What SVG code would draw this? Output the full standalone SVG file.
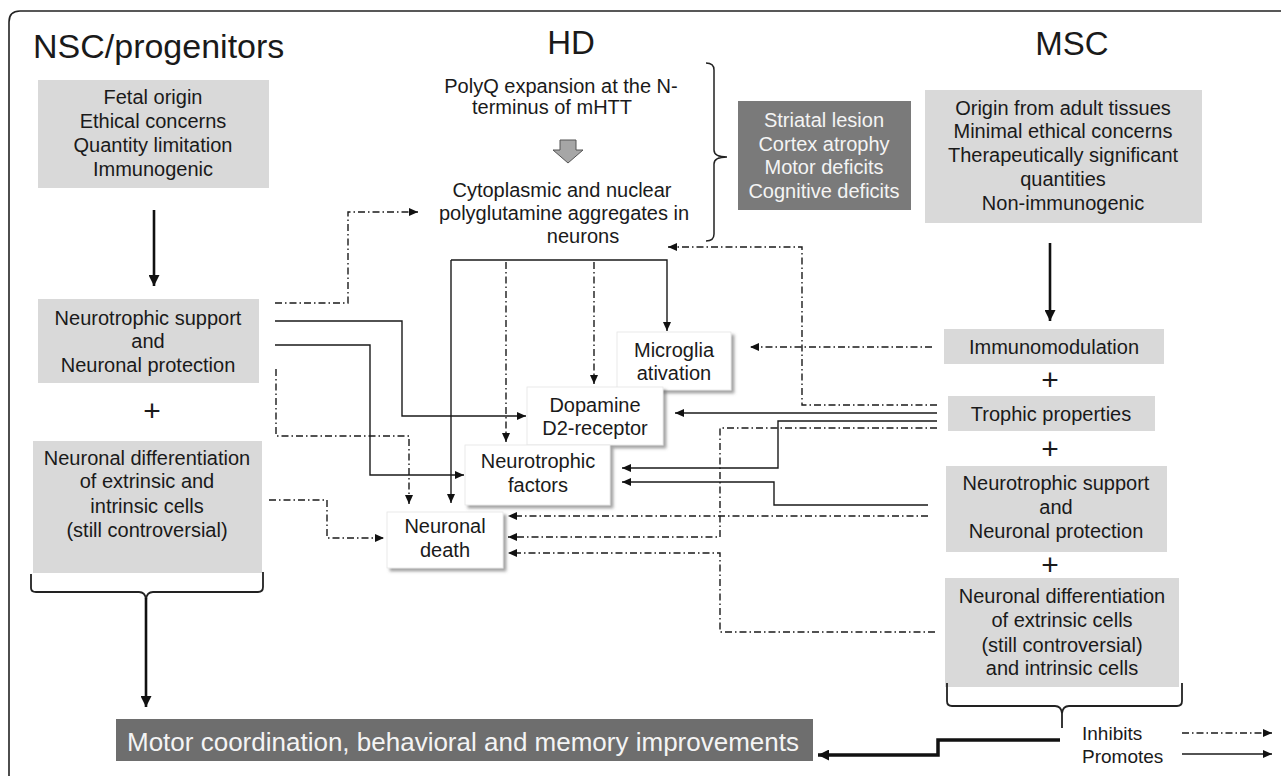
<svg xmlns="http://www.w3.org/2000/svg" width="1281" height="776" viewBox="0 0 1281 776">
<style>
text{font-family:"Liberation Sans",Arial,sans-serif;fill:#1a1a1a}
.t20{font-size:20px;text-anchor:middle}
.title{font-size:33px}
.wt{fill:#f4f4f4}
.gbox{fill:#d9d9d9}
.dbox{fill:#7a7a7a}
.wbox{fill:#ffffff;stroke:#e4e4e4;stroke-width:0.8}
.sol{fill:none;stroke:#1a1a1a;stroke-width:1.4}
.dd{fill:none;stroke:#1a1a1a;stroke-width:1.4;stroke-dasharray:7 3 1.5 3}
.thick{fill:none;stroke:#111;stroke-width:2.6}
.plus{font-size:30px;text-anchor:middle}
</style>
<defs>
<marker id="arr" markerUnits="userSpaceOnUse" markerWidth="9" markerHeight="8" refX="9" refY="4" orient="auto"><path d="M0,0 L9,4 L0,8 z" fill="#111"/></marker>
<marker id="arrB" markerUnits="userSpaceOnUse" markerWidth="11" markerHeight="11" refX="11" refY="5.5" orient="auto"><path d="M0,0 L11,5.5 L0,11 z" fill="#111"/></marker>
<filter id="sh" x="-10%" y="-10%" width="125%" height="130%"><feDropShadow dx="3" dy="3" stdDeviation="1.5" flood-color="#666" flood-opacity="0.6"/></filter>
</defs>

<path id="frame" d="M9,776 V22 Q9,11 20,11 H1281" fill="none" stroke="#222" stroke-width="1.6"/>

<g id="titles">
<text class="title" x="33" y="58" font-size="34" style="font-size:34px">NSC/progenitors</text>
<text class="title" x="571" y="54" text-anchor="middle">HD</text>
<text class="title" x="1072" y="55" text-anchor="middle">MSC</text>
</g>

<g id="nsc-props">
<rect class="gbox" x="38" y="80" width="231" height="108"/>
<text class="t20" x="153" y="104">Fetal origin</text>
<text class="t20" x="153" y="128">Ethical concerns</text>
<text class="t20" x="153" y="152">Quantity limitation</text>
<text class="t20" x="153" y="176">Immunogenic</text>
</g>
<g id="nsc-support">
<rect class="gbox" x="38" y="299" width="221" height="84"/>
<text class="t20" x="148" y="325">Neurotrophic support</text>
<text class="t20" x="148" y="348">and</text>
<text class="t20" x="148" y="372">Neuronal protection</text>
</g>
<text class="plus" x="152" y="421">+</text>
<g id="nsc-diff">
<rect class="gbox" x="33" y="441" width="229" height="132"/>
<text class="t20" x="147" y="465">Neuronal differentiation</text>
<text class="t20" x="147" y="488">of extrinsic and</text>
<text class="t20" x="147" y="513">intrinsic cells</text>
<text class="t20" x="147" y="537">(still controversial)</text>
</g>

<g id="hd-text">
<text class="t20" x="561" y="93">PolyQ expansion at the N-</text>
<text class="t20" x="552" y="114">terminus of mHTT</text>
<polygon points="560,140 576,140 576,150 583,150 568,163 553,150 560,150" fill="#a6a6a6" stroke="#555" stroke-width="1"/>
<text class="t20" x="562" y="197">Cytoplasmic and nuclear</text>
<text class="t20" x="564" y="220">polyglutamine aggregates in</text>
<text class="t20" x="583" y="243">neurons</text>
<path d="M706,63 Q714,63 714,70 V150 Q714,157 727,157 Q714,157 714,164 V234 Q714,241 706,241" fill="none" stroke="#222" stroke-width="1.5"/>
</g>

<g id="hd-symptoms">
<rect class="dbox" x="738" y="101" width="173" height="109"/>
<text class="t20 wt" x="824" y="127">Striatal lesion</text>
<text class="t20 wt" x="824" y="151">Cortex atrophy</text>
<text class="t20 wt" x="824" y="174">Motor deficits</text>
<text class="t20 wt" x="824" y="198">Cognitive deficits</text>
</g>

<g id="msc-props">
<rect class="gbox" x="925" y="90" width="277" height="133"/>
<text class="t20" x="1063" y="115">Origin from adult tissues</text>
<text class="t20" x="1063" y="138">Minimal ethical concerns</text>
<text class="t20" x="1063" y="162">Therapeutically significant</text>
<text class="t20" x="1063" y="186">quantities</text>
<text class="t20" x="1063" y="210">Non-immunogenic</text>
</g>
<g id="msc-immuno">
<rect class="gbox" x="944" y="329" width="220" height="35"/>
<text class="t20" x="1054" y="354">Immunomodulation</text>
</g>
<text class="plus" x="1050" y="390">+</text>
<g id="msc-trophic">
<rect class="gbox" x="948" y="396" width="207" height="35"/>
<text class="t20" x="1051" y="421">Trophic properties</text>
</g>
<text class="plus" x="1050" y="459">+</text>
<g id="msc-support">
<rect class="gbox" x="946" y="466" width="221" height="86"/>
<text class="t20" x="1056" y="490">Neurotrophic support</text>
<text class="t20" x="1056" y="514">and</text>
<text class="t20" x="1056" y="538">Neuronal protection</text>
</g>
<text class="plus" x="1050" y="575">+</text>
<g id="msc-diff">
<rect class="gbox" x="945" y="578" width="234" height="109"/>
<text class="t20" x="1062" y="603">Neuronal differentiation</text>
<text class="t20" x="1062" y="627">of extrinsic cells</text>
<text class="t20" x="1062" y="652">(still controversial)</text>
<text class="t20" x="1062" y="675">and intrinsic cells</text>
</g>

<g id="microglia">
<rect class="wbox" x="617" y="332" width="114" height="58" filter="url(#sh)"/>
<text class="t20" x="674" y="357">Microglia</text>
<text class="t20" x="674" y="380">ativation</text>
</g>
<g id="dopamine">
<rect class="wbox" x="527" y="387" width="136" height="58" filter="url(#sh)"/>
<text class="t20" x="595" y="412">Dopamine</text>
<text class="t20" x="595" y="435">D2-receptor</text>
</g>
<g id="neurotrophic-factors">
<rect class="wbox" x="465" y="445" width="145" height="60" filter="url(#sh)"/>
<text class="t20" x="538" y="468">Neurotrophic</text>
<text class="t20" x="538" y="492">factors</text>
</g>
<g id="neuronal-death">
<rect class="wbox" x="387" y="512" width="116" height="56" filter="url(#sh)"/>
<text class="t20" x="445" y="533">Neuronal</text>
<text class="t20" x="445" y="557">death</text>
</g>

<g id="outcome">
<rect x="116" y="719" width="697" height="42" fill="#6e6e6e"/>
<text x="127" y="751" font-size="26" class="wt">Motor coordination, behavioral and memory improvements</text>
</g>

<g id="legend">
<text x="1082" y="740" font-size="19">Inhibits</text>
<text x="1082" y="763" font-size="19">Promotes</text>
<line class="dd" x1="1182" y1="733" x2="1272" y2="733" marker-end="url(#arr)"/>
<line class="sol" x1="1182" y1="754" x2="1272" y2="754" marker-end="url(#arr)"/>
</g>

<g id="connectors">
<line class="thick" x1="154" y1="210" x2="154" y2="286" marker-end="url(#arrB)"/>
<line class="thick" x1="1050" y1="243" x2="1050" y2="321" marker-end="url(#arrB)"/>
<path d="M31,574 V588 Q31,592 36,592 H139 Q145,592 146,599 Q147,592 153,592 H258 Q263,592 263,587 V572" fill="none" stroke="#222" stroke-width="1.8"/>
<line class="thick" x1="146" y1="598" x2="146" y2="707" marker-end="url(#arrB)"/>
<path d="M947,683 V701 Q947,706 952,706 H1055 Q1061,706 1062,713 Q1063,706 1069,706 H1177 Q1182,706 1182,701 V683" fill="none" stroke="#222" stroke-width="1.8"/>
<line x1="1062" y1="712" x2="1062" y2="728" stroke="#222" stroke-width="1.8"/>
<polyline points="1060,740 938,740 938,755 818,755" fill="none" stroke="#111" stroke-width="3.5" marker-end="url(#arrB)"/>
<polyline class="dd" points="275,303 348,303 348,212 418,212" marker-end="url(#arr)"/>
<polyline class="sol" points="275,321 402,321 402,416 526,416" marker-end="url(#arr)"/>
<polyline class="sol" points="275,345 370,345 370,475 464,475" marker-end="url(#arr)"/>
<polyline class="dd" points="276,369 276,436 409,436 409,504" marker-end="url(#arr)"/>
<polyline class="dd" points="269,500 327,500 327,538 384,538" marker-end="url(#arr)"/>
<polyline class="sol" points="451,260 667,260 667,331" marker-end="url(#arr)"/>
<line class="sol" x1="451" y1="260" x2="451" y2="503" marker-end="url(#arr)"/>
<line class="dd" x1="506" y1="262" x2="506" y2="442" marker-end="url(#arr)"/>
<line class="dd" x1="594" y1="262" x2="594" y2="384" marker-end="url(#arr)"/>
<polyline class="dd" points="937,405 802,405 802,247 668,247" marker-end="url(#arr)"/>
<line class="dd" x1="932" y1="347" x2="750" y2="347" marker-end="url(#arr)"/>
<line class="sol" x1="937" y1="413" x2="675" y2="413" marker-end="url(#arr)"/>
<polyline class="sol" points="937,421 778,421 778,468 622,468" marker-end="url(#arr)"/>
<polyline class="dd" points="937,428 720,428 720,537 508,537" marker-end="url(#arr)"/>
<polyline class="sol" points="928,505 774,505 774,482 622,482" marker-end="url(#arr)"/>
<line class="dd" x1="928" y1="516" x2="508" y2="516" marker-end="url(#arr)"/>
<polyline class="dd" points="935,632 720,632 720,553 508,553" marker-end="url(#arr)"/>
</g>
</svg>
